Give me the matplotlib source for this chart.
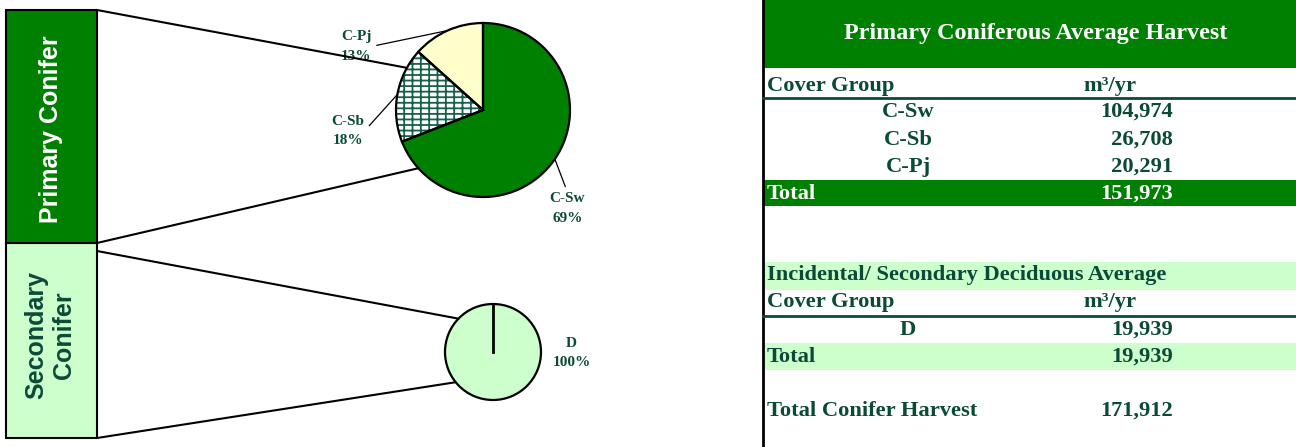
import numpy as np
import matplotlib
matplotlib.use("Agg")
import matplotlib.pyplot as plt
from matplotlib.patches import Rectangle, Wedge, ConnectionPatch

# data
primary_groups = ["C-Sw", "C-Sb", "C-Pj"]
primary_volumes = [104974, 26708, 20291]
secondary_groups = ["D"]
secondary_volumes = [19939]

primary_title = "Primary Coniferous Average Harvest"
secondary_title = "Incidental/ Secondary Deciduous Average"
unit_label = "m\u00b3/yr"

# colours
GREEN = "#008000"
LIGHT_GREEN = "#CCFFCC"
LIGHT_YELLOW = "#FFFFCC"
TXT = "#0B4A37"
SERIF = ["Liberation Serif", "DejaVu Serif"]
SANS = ["Liberation Sans", "DejaVu Sans"]

plt.rcParams["hatch.linewidth"] = 1.3

W, H = 1296, 447
fig = plt.figure(figsize=(W / 100, H / 100), dpi=100)

# background axes in pixel units (boxes, connectors, table)
bg = fig.add_axes([0, 0, 1, 1])
bg.set_xlim(0, W)
bg.set_ylim(H, 0)
bg.axis("off")


def pie_axes(cx, cy, r):
    return fig.add_axes([(cx - r) / W, 1 - (cy + r) / H, 2 * r / W, 2 * r / H])


def pct_labels(groups, vals):
    tot = sum(vals)
    return [f"{g}\n{100 * v / tot:.0f}%" for g, v in zip(groups, vals)]


# ---- left side boxes ----
bg.add_patch(Rectangle((6, 10), 91, 233, facecolor=GREEN, edgecolor="black", lw=1.5))
bg.add_patch(Rectangle((6, 243), 91, 195, facecolor=LIGHT_GREEN, edgecolor="black", lw=1.5))
bg.text(51, 129, "Primary Conifer", rotation=90, ha="center", va="center",
        color="white", fontsize=18, fontweight="bold", family=SANS)
bg.text(50, 335, "Secondary\nConifer", rotation=90, ha="center", va="center",
        color=TXT, fontsize=18, fontweight="bold", family=SANS, linespacing=1.2)

# ---- primary pie ----
ax1 = pie_axes(483, 110, 87)
wedges, _ = ax1.pie(primary_volumes, colors=[GREEN, "white", LIGHT_YELLOW],
                    startangle=90, counterclock=False,
                    wedgeprops=dict(linewidth=0, zorder=1))
sb = wedges[1]
ax1.add_patch(Wedge(sb.center, sb.r, sb.theta1, sb.theta2, facecolor="none",
                    edgecolor="#17604A", hatch="---||", linewidth=0, zorder=1.5))
ax1.pie(primary_volumes, startangle=90, counterclock=False,
        wedgeprops=dict(fill=False, edgecolor="black", linewidth=1.6, zorder=2))
ax1.set_xlim(-1, 1)
ax1.set_ylim(-1, 1)

label_pos = [(0.97, -1.13), (-1.55, -0.24), (-1.46, 0.73)]
label_rel = [(0.5, 1.0), (1.0, 0.5), (1.0, 0.5)]
for w, txt, pos, rel in zip(wedges, pct_labels(primary_groups, primary_volumes), label_pos, label_rel):
    mid = np.radians((w.theta1 + w.theta2) / 2)
    ax1.annotate(txt, xy=(np.cos(mid), np.sin(mid)), xytext=pos, ha="center", va="center",
                 fontsize=11, fontweight="bold", family=SERIF, color=TXT,
                 linespacing=1.65, annotation_clip=False,
                 arrowprops=dict(arrowstyle="-", color="black", lw=0.9, relpos=rel,
                                 shrinkA=2, shrinkB=0))

# ---- secondary pie ----
ax2 = pie_axes(493, 352, 48)
w2, _ = ax2.pie(secondary_volumes, colors=[LIGHT_GREEN], startangle=90, counterclock=False,
                wedgeprops=dict(edgecolor="black", linewidth=1.6))
ax2.plot([0, np.cos(np.radians(90))], [0, np.sin(np.radians(90))], color="black", lw=2)
ax2.set_xlim(-1, 1)
ax2.set_ylim(-1, 1)
for txt in pct_labels(secondary_groups, secondary_volumes):
    ax2.text(1.64, -0.02, txt, ha="center", va="center", fontsize=11, fontweight="bold",
             family=SERIF, color=TXT, linespacing=1.65)

# ---- connector lines ----
for (bx, by), ang, ax in [((97, 10), 151, ax1), ((97, 243), 222, ax1),
                          ((97, 251), 136, ax2), ((97, 438), 219, ax2)]:
    a = np.radians(ang)
    cp = ConnectionPatch(xyA=(bx, by), coordsA=bg.transData,
                         xyB=(np.cos(a), np.sin(a)), coordsB=ax.transData,
                         color="black", lw=1.5)
    fig.add_artist(cp)

# ---- table ----
TX0, TX1 = 763, W
NAME_X, VAL_X, UNIT_X, LEFT_X = 908, 1173, 1110, 767
FS = 16.2


def ttxt(x, y, s, ha="left", color=TXT, fs=FS):
    bg.text(x, y, s, ha=ha, va="center", color=color, fontsize=fs,
            fontweight="bold", family=SERIF)


bg.plot([TX0, TX0], [0, H], color="black", lw=2)
bg.add_patch(Rectangle((TX0, 0), TX1 - TX0, 68, facecolor=GREEN, edgecolor="none"))
ttxt(1036, 33, primary_title, ha="center", color="white", fs=17.4)

ttxt(LEFT_X, 86, "Cover Group")
ttxt(UNIT_X, 86, unit_label, ha="center")
bg.plot([TX0, TX1], [98, 98], color="#0B4A35", lw=2)
row_y = [112, 140, 167]
for y, g, v in zip(row_y, primary_groups, primary_volumes):
    ttxt(NAME_X, y, g, ha="center")
    ttxt(VAL_X, y, f"{v:,}", ha="right")
bg.add_patch(Rectangle((TX0, 180), TX1 - TX0, 26, facecolor=GREEN, edgecolor="none"))
ttxt(LEFT_X, 194, "Total", color="white")
ttxt(VAL_X, 194, f"{sum(primary_volumes):,}", ha="right", color="white")

bg.add_patch(Rectangle((TX0, 262), TX1 - TX0, 28, facecolor=LIGHT_GREEN, edgecolor="none"))
ttxt(LEFT_X, 275, secondary_title)
ttxt(LEFT_X, 302, "Cover Group")
ttxt(UNIT_X, 302, unit_label, ha="center")
bg.plot([TX0, TX1], [316, 316], color="#0B4A35", lw=2)
for g, v in zip(secondary_groups, secondary_volumes):
    ttxt(NAME_X, 330, g, ha="center")
    ttxt(VAL_X, 330, f"{v:,}", ha="right")
bg.add_patch(Rectangle((TX0, 343), TX1 - TX0, 27, facecolor=LIGHT_GREEN, edgecolor="none"))
ttxt(LEFT_X, 357, "Total")
ttxt(VAL_X, 357, f"{sum(secondary_volumes):,}", ha="right")

ttxt(LEFT_X, 411, "Total Conifer Harvest")
ttxt(VAL_X, 411, f"{sum(primary_volumes) + sum(secondary_volumes):,}", ha="right")

fig.savefig("out.png", dpi=100)
